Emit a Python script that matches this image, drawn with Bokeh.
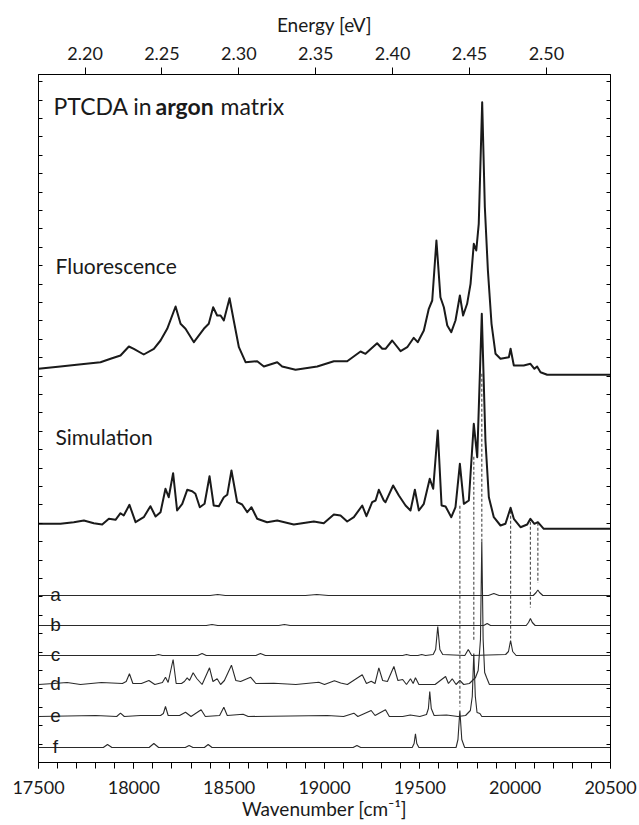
import numpy as np
from bokeh.plotting import figure
from bokeh.models import (Range1d, LinearAxis, FixedTicker, NumeralTickFormatter,
                          CustomJSTickFormatter, Label, ColumnDataSource)
from bokeh.embed import file_html
from bokeh.resources import INLINE

# ---------------------------------------------------------------- data
EV_PER_WAVENUMBER = 1.0 / 8065.544

x_ticks = [17500, 18000, 18500, 19000, 19500, 20000, 20500]
x_minor = list(range(17500, 20501, 100))
ev_ticks = [2.20, 2.25, 2.30, 2.35, 2.40, 2.45, 2.50]

# measured fluorescence (wavenumber, intensity in arb. units)
fl_wn = [17500, 17615, 17700, 17825, 17878, 17930, 17974, 18000, 18052, 18105,
         18140, 18175, 18219, 18245, 18271, 18315, 18367, 18393, 18416, 18437,
         18455, 18472, 18502, 18524, 18551, 18586, 18647, 18682, 18752, 18778,
         18848, 18962, 19049, 19119, 19189, 19215, 19276, 19303, 19320, 19355,
         19399, 19434, 19468, 19489, 19521, 19547, 19565, 19587, 19608, 19626,
         19644, 19665, 19687, 19710, 19727, 19748, 19766, 19783, 19796, 19809,
         19827, 19841, 19857, 19876, 19897, 19923, 19967, 19976, 19993, 20045,
         20080, 20101, 20115, 20133, 20168, 20500]
fl_int = [6, 8.3, 10, 12.6, 16, 19.3, 28.3, 26, 20.3, 26,
          34.3, 46, 68.3, 51, 46, 32.6, 46, 51, 67.6, 59.3,
          59.3, 54.3, 76.6, 54.3, 27.6, 12.6, 13.6, 8.3, 12.6, 8.3,
          5, 8.3, 13.6, 13.6, 23.3, 21, 31.6, 26, 26, 34.3,
          23.6, 27.6, 37, 32.6, 44.3, 66, 74.3, 134.3, 77.6, 67.6,
          49.3, 42.6, 54.3, 79.3, 59.3, 71, 91, 131, 124.3, 151,
          272.6, 167.6, 104.3, 51, 21, 16, 17.6, 26, 9.3, 9.3,
          11, 6, 8.3, 2.6, 0, 0]

# simulated spectrum
sim_wn = [17500, 17615, 17685, 17738, 17790, 17834, 17869, 17904, 17930, 17947,
          17977, 18009, 18052, 18087, 18114, 18140, 18166, 18183, 18206, 18227,
          18254, 18280, 18306, 18323, 18346, 18371, 18397, 18419, 18446, 18472,
          18490, 18512, 18542, 18568, 18595, 18617, 18647, 18699, 18752, 18839,
          18944, 18996, 19049, 19084, 19119, 19154, 19198, 19220, 19250, 19268,
          19285, 19311, 19320, 19360, 19390, 19425, 19451, 19474, 19495, 19521,
          19552, 19570, 19594, 19614, 19635, 19665, 19687, 19710, 19731, 19757,
          19783, 19801, 19825, 19844, 19862, 19888, 19923, 19949, 19976, 19993,
          20028, 20063, 20080, 20101, 20119, 20150, 20500]
sim_int = [5, 5, 6.6, 8.3, 5.6, 4.3, 10, 9, 15.6, 13.3,
           24, 6.6, 11.6, 22.6, 12.3, 16.6, 40, 31.6, 55.6, 18.3,
           25, 39, 37.6, 35, 21.6, 25, 52.6, 23.3, 22.6, 31.6,
           34, 58.3, 26.6, 24.3, 16.6, 21.6, 10, 6.6, 8.3, 4.3,
           7.3, 5.6, 14.3, 13.3, 7.3, 11.6, 23.3, 12.6, 26.6, 28.3,
           39, 28.3, 26.6, 43.3, 33.3, 23.3, 18.3, 39, 18.3, 25,
           50, 40, 98.3, 23.3, 22.3, 11.6, 21.6, 65, 25, 28.3,
           105, 71.6, 215, 88.3, 31.6, 11.6, 3.3, 5, 21, 10,
           1.6, 4.3, 10, 5, 6.6, 0, 0]

# partial spectra a-f
a_wn = [17500, 18400, 18440, 18480, 18900, 18960, 19020, 19860, 19888, 19916,
        20095, 20110, 20119, 20128, 20145, 20500]
a_int = [0, 0, 1, 0, 0, 1, 0, 0, 2, 0,
         0, 3, 5.5, 3, 0, 0]

b_wn = [17500, 18380, 18410, 18440, 18760, 18790, 18820, 19835, 19853, 19871,
        20058, 20070, 20080, 20090, 20105, 20500]
b_int = [0, 0, 1, 0, 0, 1, 0, 0, 2, 0,
         0, 3, 7, 3, 0, 0]

c_wn = [17500, 18110, 18129, 18150, 18335, 18358, 18380, 18640, 18664, 18690,
        19410, 19430, 19450, 19490, 19510, 19530, 19570, 19583, 19594, 19605,
        19620, 19736, 19754, 19772, 19950, 19965, 19976, 19987, 20005, 20500]
c_int = [0, 0, 1, 0, 0, 2, 0, 0, 2, 0,
         0, 1, 0, 0, 1, 0, 1, 6, 29, 6,
         1, 0, 6, 0, 1, 4, 15, 4, 0, 0]

d_wn = [17500, 17580, 17650, 17720, 17830, 17940, 17960, 17977, 17995, 18040,
        18079, 18110, 18150, 18166, 18180, 18206, 18222, 18250, 18265, 18280,
        18292, 18311, 18330, 18358, 18397, 18415, 18437, 18455, 18475, 18512,
        18535, 18560, 18612, 18640, 18734, 18850, 18970, 19000, 19052, 19085,
        19120, 19198, 19220, 19245, 19265, 19285, 19305, 19330, 19364, 19385,
        19410, 19430, 19451, 19465, 19477, 19495, 19580, 19635, 19650, 19670,
        19690, 19710, 19730, 19760, 19792, 19806, 19818, 19825, 19832, 19840,
        19850, 19865, 20500]
d_int = [0, 1, 2, 0, 2, 1, 3, 10.7, 1, 1,
         4, 0, 2, 7.3, 2, 25, 1, 1, 3, 6.7,
         4, 11.7, 6, 0, 16.7, 3, 5.7, 0, 4, 19.3,
         4, 3, 7.3, 1, 1.3, 0, 2.3, 0, 3.7, 1.5,
         0, 9.7, 1, 3.3, 1, 16.7, 4, 3, 18, 4,
         5, 0, 5.7, 1, 6.7, 0, 0, 8, 1, 5.7,
         0, 4, 0, 1, 7, 14, 45, 143, 45, 12,
         7, 0, 0]

e_wn = [17500, 17800, 17910, 17930, 17950, 18035, 18140, 18155, 18166, 18180,
        18240, 18271, 18300, 18353, 18375, 18450, 18472, 18490, 18573, 18600,
        19014, 19100, 19154, 19175, 19245, 19265, 19320, 19340, 19410, 19450,
        19500, 19535, 19545, 19552, 19560, 19575, 19640, 19700, 19740, 19765,
        19775, 19783, 19791, 19800, 19815, 19825, 20500]
e_int = [0, 1, 0, 3.3, 0, 1, 1, 3, 10, 1,
         1, 4.3, 0, 6.7, 0, 1, 9.3, 1, 2.3, 0,
         1, 0, 3.3, 0, 6, 1, 6.7, 0, 0, 1.5,
         0, 2, 8, 25, 8, 1, 1.5, 0, 1, 6,
         20, 63, 20, 4, 3, 0, 0]

f_wn = [17500, 17840, 17862, 17885, 18080, 18105, 18130, 18270, 18290, 18310,
        18370, 18390, 18410, 19150, 19170, 19190, 19460, 19470, 19477, 19484,
        19495, 19690, 19700, 19710, 19720, 19735, 20500]
f_int = [0, 0, 3, 0, 0, 4, 0, 0, 2, 0,
         0, 3, 0, 0, 2, 0, 0, 4, 13.7, 4,
         0, 0, 8, 37, 8, 0, 0]

part_names = ["a", "b", "c", "d", "e", "f"]
part_wn = [a_wn, b_wn, c_wn, d_wn, e_wn, f_wn]
part_int = [a_int, b_int, c_int, d_int, e_int, f_int]

# simulated lines traced back to the partial spectrum they come from
link_wn = [19710, 19783, 19825, 19976, 20080, 20119]
link_part = ["f", "e", "d", "c", "b", "a"]
link_sim_level = [23, 72, 155, 18, 7, 6]        # where each guide leaves the simulation
link_gap = [4, 13, 0, 2, 11, 7]                 # space left above the partial peak

# ---------------------------------------------------------------- layout
X_MIN, X_MAX = 17500, 20500
Y_MAX = 688
fl_offset = 387.7
sim_offset = 233.7
part_offset = {"a": 167, "b": 137, "c": 107, "d": 78, "e": 46, "f": 15}

FONT = "Lato"
INK = "#1a1a1a"

p = figure(width=639, height=825, output_backend="svg", toolbar_location=None,
           x_range=Range1d(X_MIN, X_MAX), y_range=Range1d(0, Y_MAX),
           min_border_left=38, min_border_right=29, min_border_top=74,
           min_border_bottom=63)
p.xgrid.visible = False
p.ygrid.visible = False
p.outline_line_color = "black"
p.background_fill_color = "white"
p.border_fill_color = "white"

# bottom axis (wavenumber)
xa = p.xaxis[0]
xa.ticker = FixedTicker(ticks=x_ticks, minor_ticks=x_minor)
xa.major_tick_in = 0
xa.major_tick_out = 6
xa.minor_tick_in = 0
xa.minor_tick_out = 6
xa.axis_line_color = "black"
xa.major_label_text_font = FONT
xa.major_label_text_font_size = "18px"
xa.major_label_text_color = INK
xa.major_label_standoff = 12
xa.axis_label = "Wavenumber [cm\u207b\u00b9]"
xa.axis_label_text_font = FONT
xa.axis_label_text_font_size = "19px"
xa.axis_label_text_font_style = "normal"
xa.axis_label_text_color = INK
xa.axis_label_standoff = 0

# top axis (photon energy)
p.extra_x_ranges = {"ev": Range1d(X_MIN * EV_PER_WAVENUMBER, X_MAX * EV_PER_WAVENUMBER)}
top = LinearAxis(x_range_name="ev", ticker=FixedTicker(ticks=ev_ticks),
                 formatter=NumeralTickFormatter(format="0.00"))
top.major_tick_in = 0
top.major_tick_out = 7
top.minor_tick_in = 0
top.minor_tick_out = 0
top.major_label_text_font = FONT
top.major_label_text_font_size = "18px"
top.major_label_text_color = INK
top.major_label_standoff = 8
top.axis_label = "Energy [eV]"
top.axis_label_text_font = FONT
top.axis_label_text_font_size = "19px"
top.axis_label_text_font_style = "normal"
top.axis_label_text_color = INK
top.axis_label_standoff = 8
p.add_layout(top, "above")

# left / right axes: inward ticks only
y_ticks = list(np.arange(0, Y_MAX + 1, 18.4))
ya = p.yaxis[0]
ya.ticker = FixedTicker(ticks=y_ticks)
ya.formatter = CustomJSTickFormatter(code="return ''")
ya.major_tick_in = 4
ya.major_tick_out = 0
ya.minor_tick_in = 0
ya.minor_tick_out = 0
ya.major_label_standoff = 0
right = LinearAxis(ticker=FixedTicker(ticks=y_ticks),
                   formatter=CustomJSTickFormatter(code="return ''"))
right.major_tick_in = 4
right.major_tick_out = 0
right.minor_tick_in = 0
right.minor_tick_out = 0
right.major_label_standoff = 0
p.add_layout(right, "right")

# ---------------------------------------------------------------- traces
for name, wn, inten in zip(part_names, part_wn, part_int):
    src = ColumnDataSource(dict(x=wn, y=np.asarray(inten) + part_offset[name]))
    p.line("x", "y", source=src, line_color="#2a2a2a", line_width=1.1)

# dashed guides from the simulation down to the partial spectra
x0, y0, y1 = [], [], []
for wn, name, lvl, gap in zip(link_wn, link_part, link_sim_level, link_gap):
    idx = part_names.index(name)
    peak = np.interp(wn, part_wn[idx], part_int[idx])
    x0.append(wn)
    y0.append(sim_offset + lvl)
    y1.append(part_offset[name] + peak + gap)
p.segment(x0=x0, y0=y0, x1=x0, y1=y1, line_color="#555555", line_width=1.2,
          line_dash="3 2")

p.line(sim_wn, np.asarray(sim_int) + sim_offset, line_color="#1a1a1a", line_width=2.0,
       line_join="round")
p.line(fl_wn, np.asarray(fl_int) + fl_offset, line_color="#1a1a1a", line_width=2.0,
       line_join="round")

# ---------------------------------------------------------------- text
def wn_at(px):
    return X_MIN + (px - 38) * (X_MAX - X_MIN) / 572.0

title_parts = [("PTCDA in", "normal", 53), ("argon", "bold", 155), ("matrix", "normal", 220)]
for txt, style, px in title_parts:
    p.add_layout(Label(x=wn_at(px), y=657, text=txt, text_font=FONT,
                       text_font_size="23px", text_font_style=style,
                       text_color=INK, text_baseline="middle", text_align="left"))

p.add_layout(Label(x=wn_at(55), y=497, text="Fluorescence", text_font=FONT,
                   text_font_size="21px", text_color=INK, text_baseline="middle"))
p.add_layout(Label(x=wn_at(55), y=326, text="Simulation", text_font=FONT,
                   text_font_size="21px", text_color=INK, text_baseline="middle"))

for name in part_names:
    p.add_layout(Label(x=wn_at(55), y=part_offset[name] + 1, text=name,
                       text_font="Liberation Sans", text_font_size="19px",
                       text_color=INK, text_align="center", text_baseline="alphabetic"))

p.add_layout(Label(x=wn_at(21), y=469, text="Fluorescence intensity  [arb. units]",
                   text_font=FONT, text_font_size="21.5px", text_color=INK,
                   angle=np.pi / 2, text_align="center", text_baseline="middle"))

open("out.html", "w").write(file_html(p, INLINE))
